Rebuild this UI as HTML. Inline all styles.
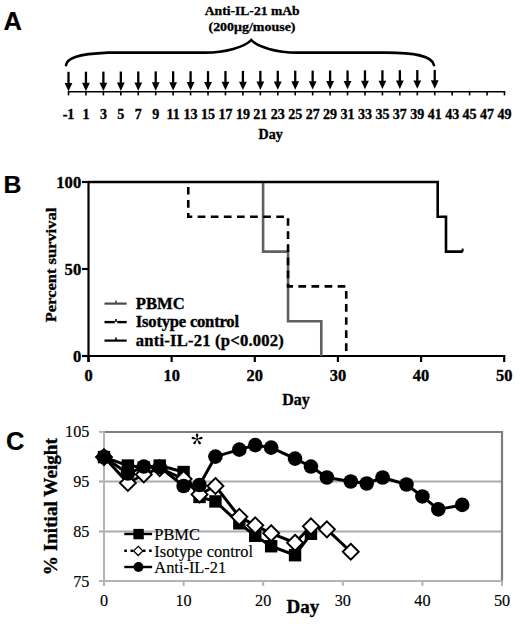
<!DOCTYPE html>
<html><head><meta charset="utf-8"><style>
html,body{margin:0;padding:0;background:#fff;width:520px;height:628px;overflow:hidden;}
svg{display:block;font-family:"Liberation Serif",serif;}
</style></head><body>
<svg width="520" height="628" viewBox="0 0 520 628">
<text x="3.6" y="29.5" font-family="'Liberation Sans', sans-serif" font-weight="bold" font-size="25.5" stroke="#000" stroke-width="0.2">A</text>
<text transform="translate(252.2,14.7) scale(1.09,1)" x="0" y="0" text-anchor="middle" font-family="'Liberation Serif', serif" font-weight="bold" font-size="12.5" stroke="#000" stroke-width="0.3">Anti-IL-21 mAb</text>
<text transform="translate(252,30.8) scale(1.1,1)" x="0" y="0" text-anchor="middle" font-family="'Liberation Serif', serif" font-weight="bold" font-size="12.7" stroke="#000" stroke-width="0.3">(200μg/mouse)</text>
<path d="M66,65.2 C67,58.5 76,54 108,52.6 L205,52.6 C225,52.6 245,47 251.2,40 C257.4,47 277,52.6 297,52.6 L386,52.6 C412,52.6 432,55 434,65.2" fill="none" stroke="#000" stroke-width="2.6" stroke-linecap="round"/>
<line x1="67.8" y1="91.75" x2="505.2" y2="91.75" stroke="#000" stroke-width="1.7"/>
<line x1="68.50" y1="91.8" x2="68.50" y2="95.4" stroke="#000" stroke-width="1.6"/>
<text x="68.50" y="118.9" text-anchor="middle" font-family="'Liberation Serif', serif" font-weight="bold" font-size="14" stroke="#000" stroke-width="0.35">-1</text>
<rect x="67.35" y="71.80" width="2.3" height="11.60" fill="#000"/>
<path d="M64.60,82.90 L72.40,82.90 L68.50,91.30 Z" fill="#000"/>
<line x1="85.94" y1="91.8" x2="85.94" y2="95.4" stroke="#000" stroke-width="1.6"/>
<text x="85.94" y="118.9" text-anchor="middle" font-family="'Liberation Serif', serif" font-weight="bold" font-size="14" stroke="#000" stroke-width="0.35">1</text>
<rect x="84.79" y="71.71" width="2.3" height="11.56" fill="#000"/>
<path d="M82.04,82.78 L89.84,82.78 L85.94,91.18 Z" fill="#000"/>
<line x1="103.38" y1="91.8" x2="103.38" y2="95.4" stroke="#000" stroke-width="1.6"/>
<text x="103.38" y="118.9" text-anchor="middle" font-family="'Liberation Serif', serif" font-weight="bold" font-size="14" stroke="#000" stroke-width="0.35">3</text>
<rect x="102.23" y="71.63" width="2.3" height="11.52" fill="#000"/>
<path d="M99.48,82.65 L107.28,82.65 L103.38,91.05 Z" fill="#000"/>
<line x1="120.82" y1="91.8" x2="120.82" y2="95.4" stroke="#000" stroke-width="1.6"/>
<text x="120.82" y="118.9" text-anchor="middle" font-family="'Liberation Serif', serif" font-weight="bold" font-size="14" stroke="#000" stroke-width="0.35">5</text>
<rect x="119.67" y="71.54" width="2.3" height="11.49" fill="#000"/>
<path d="M116.92,82.53 L124.72,82.53 L120.82,90.93 Z" fill="#000"/>
<line x1="138.26" y1="91.8" x2="138.26" y2="95.4" stroke="#000" stroke-width="1.6"/>
<text x="138.26" y="118.9" text-anchor="middle" font-family="'Liberation Serif', serif" font-weight="bold" font-size="14" stroke="#000" stroke-width="0.35">7</text>
<rect x="137.11" y="71.46" width="2.3" height="11.45" fill="#000"/>
<path d="M134.36,82.40 L142.16,82.40 L138.26,90.80 Z" fill="#000"/>
<line x1="155.70" y1="91.8" x2="155.70" y2="95.4" stroke="#000" stroke-width="1.6"/>
<text x="155.70" y="118.9" text-anchor="middle" font-family="'Liberation Serif', serif" font-weight="bold" font-size="14" stroke="#000" stroke-width="0.35">9</text>
<rect x="154.55" y="71.37" width="2.3" height="11.41" fill="#000"/>
<path d="M151.80,82.28 L159.60,82.28 L155.70,90.68 Z" fill="#000"/>
<line x1="173.14" y1="91.8" x2="173.14" y2="95.4" stroke="#000" stroke-width="1.6"/>
<text x="173.14" y="118.9" text-anchor="middle" font-family="'Liberation Serif', serif" font-weight="bold" font-size="14" stroke="#000" stroke-width="0.35">11</text>
<rect x="171.99" y="71.29" width="2.3" height="11.37" fill="#000"/>
<path d="M169.24,82.16 L177.04,82.16 L173.14,90.56 Z" fill="#000"/>
<line x1="190.58" y1="91.8" x2="190.58" y2="95.4" stroke="#000" stroke-width="1.6"/>
<text x="190.58" y="118.9" text-anchor="middle" font-family="'Liberation Serif', serif" font-weight="bold" font-size="14" stroke="#000" stroke-width="0.35">13</text>
<rect x="189.43" y="71.20" width="2.3" height="11.33" fill="#000"/>
<path d="M186.68,82.03 L194.48,82.03 L190.58,90.43 Z" fill="#000"/>
<line x1="208.02" y1="91.8" x2="208.02" y2="95.4" stroke="#000" stroke-width="1.6"/>
<text x="208.02" y="118.9" text-anchor="middle" font-family="'Liberation Serif', serif" font-weight="bold" font-size="14" stroke="#000" stroke-width="0.35">15</text>
<rect x="206.87" y="71.11" width="2.3" height="11.30" fill="#000"/>
<path d="M204.12,81.91 L211.92,81.91 L208.02,90.31 Z" fill="#000"/>
<line x1="225.46" y1="91.8" x2="225.46" y2="95.4" stroke="#000" stroke-width="1.6"/>
<text x="225.46" y="118.9" text-anchor="middle" font-family="'Liberation Serif', serif" font-weight="bold" font-size="14" stroke="#000" stroke-width="0.35">17</text>
<rect x="224.31" y="71.03" width="2.3" height="11.26" fill="#000"/>
<path d="M221.56,81.79 L229.36,81.79 L225.46,90.19 Z" fill="#000"/>
<line x1="242.90" y1="91.8" x2="242.90" y2="95.4" stroke="#000" stroke-width="1.6"/>
<text x="242.90" y="118.9" text-anchor="middle" font-family="'Liberation Serif', serif" font-weight="bold" font-size="14" stroke="#000" stroke-width="0.35">19</text>
<rect x="241.75" y="70.94" width="2.3" height="11.22" fill="#000"/>
<path d="M239.00,81.66 L246.80,81.66 L242.90,90.06 Z" fill="#000"/>
<line x1="260.34" y1="91.8" x2="260.34" y2="95.4" stroke="#000" stroke-width="1.6"/>
<text x="260.34" y="118.9" text-anchor="middle" font-family="'Liberation Serif', serif" font-weight="bold" font-size="14" stroke="#000" stroke-width="0.35">21</text>
<rect x="259.19" y="70.86" width="2.3" height="11.18" fill="#000"/>
<path d="M256.44,81.54 L264.24,81.54 L260.34,89.94 Z" fill="#000"/>
<line x1="277.78" y1="91.8" x2="277.78" y2="95.4" stroke="#000" stroke-width="1.6"/>
<text x="277.78" y="118.9" text-anchor="middle" font-family="'Liberation Serif', serif" font-weight="bold" font-size="14" stroke="#000" stroke-width="0.35">23</text>
<rect x="276.63" y="70.77" width="2.3" height="11.14" fill="#000"/>
<path d="M273.88,81.41 L281.68,81.41 L277.78,89.81 Z" fill="#000"/>
<line x1="295.22" y1="91.8" x2="295.22" y2="95.4" stroke="#000" stroke-width="1.6"/>
<text x="295.22" y="118.9" text-anchor="middle" font-family="'Liberation Serif', serif" font-weight="bold" font-size="14" stroke="#000" stroke-width="0.35">25</text>
<rect x="294.07" y="70.69" width="2.3" height="11.10" fill="#000"/>
<path d="M291.32,81.29 L299.12,81.29 L295.22,89.69 Z" fill="#000"/>
<line x1="312.66" y1="91.8" x2="312.66" y2="95.4" stroke="#000" stroke-width="1.6"/>
<text x="312.66" y="118.9" text-anchor="middle" font-family="'Liberation Serif', serif" font-weight="bold" font-size="14" stroke="#000" stroke-width="0.35">27</text>
<rect x="311.51" y="70.60" width="2.3" height="11.07" fill="#000"/>
<path d="M308.76,81.17 L316.56,81.17 L312.66,89.57 Z" fill="#000"/>
<line x1="330.10" y1="91.8" x2="330.10" y2="95.4" stroke="#000" stroke-width="1.6"/>
<text x="330.10" y="118.9" text-anchor="middle" font-family="'Liberation Serif', serif" font-weight="bold" font-size="14" stroke="#000" stroke-width="0.35">29</text>
<rect x="328.95" y="70.51" width="2.3" height="11.03" fill="#000"/>
<path d="M326.20,81.04 L334.00,81.04 L330.10,89.44 Z" fill="#000"/>
<line x1="347.54" y1="91.8" x2="347.54" y2="95.4" stroke="#000" stroke-width="1.6"/>
<text x="347.54" y="118.9" text-anchor="middle" font-family="'Liberation Serif', serif" font-weight="bold" font-size="14" stroke="#000" stroke-width="0.35">31</text>
<rect x="346.39" y="70.43" width="2.3" height="10.99" fill="#000"/>
<path d="M343.64,80.92 L351.44,80.92 L347.54,89.32 Z" fill="#000"/>
<line x1="364.98" y1="91.8" x2="364.98" y2="95.4" stroke="#000" stroke-width="1.6"/>
<text x="364.98" y="118.9" text-anchor="middle" font-family="'Liberation Serif', serif" font-weight="bold" font-size="14" stroke="#000" stroke-width="0.35">33</text>
<rect x="363.83" y="70.34" width="2.3" height="10.95" fill="#000"/>
<path d="M361.08,80.80 L368.88,80.80 L364.98,89.20 Z" fill="#000"/>
<line x1="382.42" y1="91.8" x2="382.42" y2="95.4" stroke="#000" stroke-width="1.6"/>
<text x="382.42" y="118.9" text-anchor="middle" font-family="'Liberation Serif', serif" font-weight="bold" font-size="14" stroke="#000" stroke-width="0.35">35</text>
<rect x="381.27" y="70.26" width="2.3" height="10.91" fill="#000"/>
<path d="M378.52,80.67 L386.32,80.67 L382.42,89.07 Z" fill="#000"/>
<line x1="399.86" y1="91.8" x2="399.86" y2="95.4" stroke="#000" stroke-width="1.6"/>
<text x="399.86" y="118.9" text-anchor="middle" font-family="'Liberation Serif', serif" font-weight="bold" font-size="14" stroke="#000" stroke-width="0.35">37</text>
<rect x="398.71" y="70.17" width="2.3" height="10.88" fill="#000"/>
<path d="M395.96,80.55 L403.76,80.55 L399.86,88.95 Z" fill="#000"/>
<line x1="417.30" y1="91.8" x2="417.30" y2="95.4" stroke="#000" stroke-width="1.6"/>
<text x="417.30" y="118.9" text-anchor="middle" font-family="'Liberation Serif', serif" font-weight="bold" font-size="14" stroke="#000" stroke-width="0.35">39</text>
<rect x="416.15" y="70.09" width="2.3" height="10.84" fill="#000"/>
<path d="M413.40,80.42 L421.20,80.42 L417.30,88.82 Z" fill="#000"/>
<line x1="434.74" y1="91.8" x2="434.74" y2="95.4" stroke="#000" stroke-width="1.6"/>
<text x="434.74" y="118.9" text-anchor="middle" font-family="'Liberation Serif', serif" font-weight="bold" font-size="14" stroke="#000" stroke-width="0.35">41</text>
<rect x="433.59" y="70.00" width="2.3" height="10.80" fill="#000"/>
<path d="M430.84,80.30 L438.64,80.30 L434.74,88.70 Z" fill="#000"/>
<line x1="452.18" y1="91.8" x2="452.18" y2="95.4" stroke="#000" stroke-width="1.6"/>
<text x="452.18" y="118.9" text-anchor="middle" font-family="'Liberation Serif', serif" font-weight="bold" font-size="14" stroke="#000" stroke-width="0.35">43</text>
<line x1="469.62" y1="91.8" x2="469.62" y2="95.4" stroke="#000" stroke-width="1.6"/>
<text x="469.62" y="118.9" text-anchor="middle" font-family="'Liberation Serif', serif" font-weight="bold" font-size="14" stroke="#000" stroke-width="0.35">45</text>
<line x1="487.06" y1="91.8" x2="487.06" y2="95.4" stroke="#000" stroke-width="1.6"/>
<text x="487.06" y="118.9" text-anchor="middle" font-family="'Liberation Serif', serif" font-weight="bold" font-size="14" stroke="#000" stroke-width="0.35">47</text>
<line x1="504.50" y1="91.8" x2="504.50" y2="95.4" stroke="#000" stroke-width="1.6"/>
<text x="504.50" y="118.9" text-anchor="middle" font-family="'Liberation Serif', serif" font-weight="bold" font-size="14" stroke="#000" stroke-width="0.35">49</text>
<text x="270.6" y="138.6" text-anchor="middle" font-family="'Liberation Serif', serif" font-weight="bold" font-size="14" stroke="#000" stroke-width="0.35">Day</text>
<text x="3.6" y="193.4" font-family="'Liberation Sans', sans-serif" font-weight="bold" font-size="24.8" stroke="#000" stroke-width="0.2">B</text>
<line x1="88.5" y1="181" x2="88.5" y2="362" stroke="#000" stroke-width="2.2"/>
<line x1="87.5" y1="356" x2="505" y2="356" stroke="#000" stroke-width="2.2"/>
<line x1="82" y1="356.00" x2="89" y2="356.00" stroke="#000" stroke-width="2.2"/>
<text x="81.2" y="362.20" text-anchor="end" font-family="'Liberation Serif', serif" font-weight="bold" font-size="16.6" stroke="#000" stroke-width="0.35">0</text>
<line x1="82" y1="269.00" x2="89" y2="269.00" stroke="#000" stroke-width="2.2"/>
<text x="81.2" y="275.20" text-anchor="end" font-family="'Liberation Serif', serif" font-weight="bold" font-size="16.6" stroke="#000" stroke-width="0.35">50</text>
<line x1="82" y1="182.00" x2="89" y2="182.00" stroke="#000" stroke-width="2.2"/>
<text x="81.2" y="188.20" text-anchor="end" font-family="'Liberation Serif', serif" font-weight="bold" font-size="16.6" stroke="#000" stroke-width="0.35">100</text>
<line x1="88.50" y1="355" x2="88.50" y2="362" stroke="#000" stroke-width="2.2"/>
<text x="88.50" y="381.2" text-anchor="middle" font-family="'Liberation Serif', serif" font-weight="bold" font-size="16.4" stroke="#000" stroke-width="0.35">0</text>
<line x1="171.64" y1="355" x2="171.64" y2="362" stroke="#000" stroke-width="2.2"/>
<text x="171.64" y="381.2" text-anchor="middle" font-family="'Liberation Serif', serif" font-weight="bold" font-size="16.4" stroke="#000" stroke-width="0.35">10</text>
<line x1="254.78" y1="355" x2="254.78" y2="362" stroke="#000" stroke-width="2.2"/>
<text x="254.78" y="381.2" text-anchor="middle" font-family="'Liberation Serif', serif" font-weight="bold" font-size="16.4" stroke="#000" stroke-width="0.35">20</text>
<line x1="337.92" y1="355" x2="337.92" y2="362" stroke="#000" stroke-width="2.2"/>
<text x="337.92" y="381.2" text-anchor="middle" font-family="'Liberation Serif', serif" font-weight="bold" font-size="16.4" stroke="#000" stroke-width="0.35">30</text>
<line x1="421.06" y1="355" x2="421.06" y2="362" stroke="#000" stroke-width="2.2"/>
<text x="421.06" y="381.2" text-anchor="middle" font-family="'Liberation Serif', serif" font-weight="bold" font-size="16.4" stroke="#000" stroke-width="0.35">40</text>
<line x1="504.20" y1="355" x2="504.20" y2="362" stroke="#000" stroke-width="2.2"/>
<text x="504.20" y="381.2" text-anchor="middle" font-family="'Liberation Serif', serif" font-weight="bold" font-size="16.4" stroke="#000" stroke-width="0.35">50</text>
<text x="296" y="405" text-anchor="middle" font-family="'Liberation Serif', serif" font-weight="bold" font-size="16" stroke="#000" stroke-width="0.35">Day</text>
<text transform="translate(55.8,265) rotate(-90) scale(1.07,1)" x="0" y="0" text-anchor="middle" font-family="'Liberation Serif', serif" font-weight="bold" font-size="15.4" stroke="#000" stroke-width="0.33">Percent survival</text>
<path d="M263.09,182.00 L263.09,251.60 L288.04,251.60 L288.04,321.20 L321.29,321.20 L321.29,356.00 " fill="none" stroke="#606060" stroke-width="2.6"/>
<path d="M188.27,182.00 L188.27,216.80 L288.04,216.80 L288.04,286.40 L346.23,286.40 L346.23,356.00 " fill="none" stroke="#000" stroke-width="2.6" stroke-dasharray="7.7 5.4" stroke-dashoffset="8.2"/>
<path d="M88.50,182.00 L437.69,182.00 L437.69,216.80 L446.00,216.80 L446.00,251.60 L462.63,251.60 " fill="none" stroke="#000" stroke-width="2.6"/>
<line x1="462.63" y1="251.60" x2="462.63" y2="248.60" stroke="#000" stroke-width="2"/>
<line x1="104.5" y1="303.6" x2="126.7" y2="303.6" stroke="#4a4a4a" stroke-width="2.2"/>
<line x1="115.9" y1="303.6" x2="115.9" y2="300.6" stroke="#4a4a4a" stroke-width="1.6"/>
<text x="135.8" y="309.3" font-family="'Liberation Serif', serif" font-weight="bold" font-size="16.6" stroke="#000" stroke-width="0.35">PBMC</text>
<line x1="104.5" y1="322.1" x2="114.8" y2="322.1" stroke="#000" stroke-width="2.4"/>
<line x1="117.2" y1="322.1" x2="126.7" y2="322.1" stroke="#000" stroke-width="2.4"/>
<line x1="115.9" y1="322.1" x2="115.9" y2="319.1" stroke="#000" stroke-width="1.6"/>
<text x="135.8" y="327.4" font-family="'Liberation Serif', serif" font-weight="bold" font-size="16.6" stroke="#000" stroke-width="0.35" textLength="103.2" lengthAdjust="spacing">Isotype control</text>
<line x1="104.5" y1="340.6" x2="126.7" y2="340.6" stroke="#000" stroke-width="2.2"/>
<line x1="115.9" y1="340.6" x2="115.9" y2="337.6" stroke="#000" stroke-width="1.6"/>
<text x="135.8" y="345.8" font-family="'Liberation Serif', serif" font-weight="bold" font-size="16.6" stroke="#000" stroke-width="0.35" textLength="148" lengthAdjust="spacing">anti-IL-21 (p&lt;0.002)</text>
<text x="5.9" y="450.4" font-family="'Liberation Sans', sans-serif" font-weight="bold" font-size="25.5" stroke="#000" stroke-width="0.2">C</text>
<line x1="99" y1="481.60" x2="502" y2="481.60" stroke="#ababab" stroke-width="2"/>
<line x1="99" y1="531.40" x2="502" y2="531.40" stroke="#ababab" stroke-width="2"/>
<line x1="104" y1="431.9" x2="502" y2="431.9" stroke="#7e7e7e" stroke-width="2"/>
<line x1="502" y1="430.9" x2="502" y2="580.9" stroke="#7e7e7e" stroke-width="2.2"/>
<line x1="99" y1="431.9" x2="104" y2="431.9" stroke="#b4b4b4" stroke-width="2"/>
<line x1="99" y1="580.9" x2="502" y2="580.9" stroke="#b4b4b4" stroke-width="2"/>
<line x1="104" y1="430.9" x2="104" y2="585.9" stroke="#b4b4b4" stroke-width="2"/>
<text x="89.4" y="437.20" text-anchor="end" font-family="'Liberation Serif', serif" font-size="16.2" stroke="#000" stroke-width="0.15">105</text>
<text x="89.4" y="487.00" text-anchor="end" font-family="'Liberation Serif', serif" font-size="16.2" stroke="#000" stroke-width="0.15">95</text>
<text x="89.4" y="536.80" text-anchor="end" font-family="'Liberation Serif', serif" font-size="16.2" stroke="#000" stroke-width="0.15">85</text>
<text x="89.4" y="586.60" text-anchor="end" font-family="'Liberation Serif', serif" font-size="16.2" stroke="#000" stroke-width="0.15">75</text>
<text x="104.00" y="606.2" text-anchor="middle" font-family="'Liberation Serif', serif" font-size="16.2" stroke="#000" stroke-width="0.15">0</text>
<line x1="183.60" y1="580.90" x2="183.60" y2="585.90" stroke="#b4b4b4" stroke-width="2"/>
<text x="183.60" y="606.2" text-anchor="middle" font-family="'Liberation Serif', serif" font-size="16.2" stroke="#000" stroke-width="0.15">10</text>
<line x1="263.20" y1="580.90" x2="263.20" y2="585.90" stroke="#b4b4b4" stroke-width="2"/>
<text x="263.20" y="606.2" text-anchor="middle" font-family="'Liberation Serif', serif" font-size="16.2" stroke="#000" stroke-width="0.15">20</text>
<line x1="342.80" y1="580.90" x2="342.80" y2="585.90" stroke="#b4b4b4" stroke-width="2"/>
<text x="342.80" y="606.2" text-anchor="middle" font-family="'Liberation Serif', serif" font-size="16.2" stroke="#000" stroke-width="0.15">30</text>
<line x1="422.40" y1="580.90" x2="422.40" y2="585.90" stroke="#b4b4b4" stroke-width="2"/>
<text x="422.40" y="606.2" text-anchor="middle" font-family="'Liberation Serif', serif" font-size="16.2" stroke="#000" stroke-width="0.15">40</text>
<line x1="502.00" y1="580.90" x2="502.00" y2="585.90" stroke="#b4b4b4" stroke-width="2"/>
<text x="502.00" y="606.2" text-anchor="middle" font-family="'Liberation Serif', serif" font-size="16.2" stroke="#000" stroke-width="0.15">50</text>
<text x="302.8" y="612.6" text-anchor="middle" font-family="'Liberation Serif', serif" font-weight="bold" font-size="19" stroke="#000" stroke-width="0.35">Day</text>
<text transform="translate(57.2,506.7) rotate(-90)" x="0" y="0" text-anchor="middle" font-family="'Liberation Serif', serif" font-weight="bold" font-size="19.2" stroke="#000" stroke-width="0.35">% Initial Weight</text>
<path transform="translate(197.1,439.3) rotate(0)" d="M0,0 L-0.85,-2.9 C-1.7,-4.5 -1.2,-5.7 0,-5.7 C1.2,-5.7 1.7,-4.5 0.85,-2.9 Z" fill="#000"/>
<path transform="translate(197.1,439.3) rotate(72)" d="M0,0 L-0.85,-2.9 C-1.7,-4.5 -1.2,-5.7 0,-5.7 C1.2,-5.7 1.7,-4.5 0.85,-2.9 Z" fill="#000"/>
<path transform="translate(197.1,439.3) rotate(144)" d="M0,0 L-0.85,-2.9 C-1.7,-4.5 -1.2,-5.7 0,-5.7 C1.2,-5.7 1.7,-4.5 0.85,-2.9 Z" fill="#000"/>
<path transform="translate(197.1,439.3) rotate(216)" d="M0,0 L-0.85,-2.9 C-1.7,-4.5 -1.2,-5.7 0,-5.7 C1.2,-5.7 1.7,-4.5 0.85,-2.9 Z" fill="#000"/>
<path transform="translate(197.1,439.3) rotate(288)" d="M0,0 L-0.85,-2.9 C-1.7,-4.5 -1.2,-5.7 0,-5.7 C1.2,-5.7 1.7,-4.5 0.85,-2.9 Z" fill="#000"/>
<circle cx="197.1" cy="439.3" r="1.0" fill="#000"/>
<polyline points="104.00,457.10 127.88,465.57 143.80,467.56 159.72,465.57 183.60,472.04 199.52,496.94 215.44,501.42 239.32,523.33 255.24,535.78 271.16,546.24 295.04,555.21 310.96,533.79" fill="none" stroke="#000" stroke-width="3.0" stroke-linejoin="round"/>
<rect x="97.80" y="450.90" width="12.4" height="12.4" fill="#000"/>
<rect x="121.68" y="459.37" width="12.4" height="12.4" fill="#000"/>
<rect x="137.60" y="461.36" width="12.4" height="12.4" fill="#000"/>
<rect x="153.52" y="459.37" width="12.4" height="12.4" fill="#000"/>
<rect x="177.40" y="465.84" width="12.4" height="12.4" fill="#000"/>
<rect x="193.32" y="490.74" width="12.4" height="12.4" fill="#000"/>
<rect x="209.24" y="495.22" width="12.4" height="12.4" fill="#000"/>
<rect x="233.12" y="517.13" width="12.4" height="12.4" fill="#000"/>
<rect x="249.04" y="529.58" width="12.4" height="12.4" fill="#000"/>
<rect x="264.96" y="540.04" width="12.4" height="12.4" fill="#000"/>
<rect x="288.84" y="549.01" width="12.4" height="12.4" fill="#000"/>
<rect x="304.76" y="527.59" width="12.4" height="12.4" fill="#000"/>
<polyline points="104.00,457.10 127.88,483.00 143.80,474.53 159.72,468.06 183.60,479.01 199.52,494.45 215.44,485.98 239.32,516.86 255.24,525.33 271.16,533.29 295.04,542.76 310.96,526.32 326.88,529.31 350.76,551.72" fill="none" stroke="#000" stroke-width="3.0" stroke-linejoin="round"/>
<path d="M104.00,449.10 L112.00,457.10 L104.00,465.10 L96.00,457.10 Z" fill="#fff" stroke="#000" stroke-width="1.9"/>
<path d="M127.88,475.00 L135.88,483.00 L127.88,491.00 L119.88,483.00 Z" fill="#fff" stroke="#000" stroke-width="1.9"/>
<path d="M143.80,466.53 L151.80,474.53 L143.80,482.53 L135.80,474.53 Z" fill="#fff" stroke="#000" stroke-width="1.9"/>
<path d="M159.72,460.06 L167.72,468.06 L159.72,476.06 L151.72,468.06 Z" fill="#fff" stroke="#000" stroke-width="1.9"/>
<path d="M183.60,471.01 L191.60,479.01 L183.60,487.01 L175.60,479.01 Z" fill="#fff" stroke="#000" stroke-width="1.9"/>
<path d="M199.52,486.45 L207.52,494.45 L199.52,502.45 L191.52,494.45 Z" fill="#fff" stroke="#000" stroke-width="1.9"/>
<path d="M215.44,477.98 L223.44,485.98 L215.44,493.98 L207.44,485.98 Z" fill="#fff" stroke="#000" stroke-width="1.9"/>
<path d="M239.32,508.86 L247.32,516.86 L239.32,524.86 L231.32,516.86 Z" fill="#fff" stroke="#000" stroke-width="1.9"/>
<path d="M255.24,517.33 L263.24,525.33 L255.24,533.33 L247.24,525.33 Z" fill="#fff" stroke="#000" stroke-width="1.9"/>
<path d="M271.16,525.29 L279.16,533.29 L271.16,541.29 L263.16,533.29 Z" fill="#fff" stroke="#000" stroke-width="1.9"/>
<path d="M295.04,534.76 L303.04,542.76 L295.04,550.76 L287.04,542.76 Z" fill="#fff" stroke="#000" stroke-width="1.9"/>
<path d="M310.96,518.32 L318.96,526.32 L310.96,534.32 L302.96,526.32 Z" fill="#fff" stroke="#000" stroke-width="1.9"/>
<path d="M326.88,521.31 L334.88,529.31 L326.88,537.31 L318.88,529.31 Z" fill="#fff" stroke="#000" stroke-width="1.9"/>
<path d="M350.76,543.72 L358.76,551.72 L350.76,559.72 L342.76,551.72 Z" fill="#fff" stroke="#000" stroke-width="1.9"/>
<polyline points="104.00,457.10 127.88,473.53 143.80,466.56 159.72,467.06 183.60,485.98 199.52,484.99 215.44,456.60 239.32,449.63 255.24,445.15 271.16,447.64 295.04,458.59 310.96,466.56 326.88,477.52 350.76,481.50 366.68,483.49 382.60,477.52 406.48,484.49 422.40,496.44 438.32,509.39 462.20,504.91" fill="none" stroke="#000" stroke-width="3.0" stroke-linejoin="round"/>
<circle cx="104.00" cy="457.10" r="7.3" fill="#000"/>
<circle cx="127.88" cy="473.53" r="7.3" fill="#000"/>
<circle cx="143.80" cy="466.56" r="7.3" fill="#000"/>
<circle cx="159.72" cy="467.06" r="7.3" fill="#000"/>
<circle cx="183.60" cy="485.98" r="7.3" fill="#000"/>
<circle cx="199.52" cy="484.99" r="7.3" fill="#000"/>
<circle cx="215.44" cy="456.60" r="7.3" fill="#000"/>
<circle cx="239.32" cy="449.63" r="7.3" fill="#000"/>
<circle cx="255.24" cy="445.15" r="7.3" fill="#000"/>
<circle cx="271.16" cy="447.64" r="7.3" fill="#000"/>
<circle cx="295.04" cy="458.59" r="7.3" fill="#000"/>
<circle cx="310.96" cy="466.56" r="7.3" fill="#000"/>
<circle cx="326.88" cy="477.52" r="7.3" fill="#000"/>
<circle cx="350.76" cy="481.50" r="7.3" fill="#000"/>
<circle cx="366.68" cy="483.49" r="7.3" fill="#000"/>
<circle cx="382.60" cy="477.52" r="7.3" fill="#000"/>
<circle cx="406.48" cy="484.49" r="7.3" fill="#000"/>
<circle cx="422.40" cy="496.44" r="7.3" fill="#000"/>
<circle cx="438.32" cy="509.39" r="7.3" fill="#000"/>
<circle cx="462.20" cy="504.91" r="7.3" fill="#000"/>
<line x1="124.3" y1="534" x2="152.1" y2="534" stroke="#000" stroke-width="2.4"/>
<rect x="133.40" y="528.90" width="10.4" height="10.4" fill="#000"/>
<line x1="124.3" y1="550.8" x2="152.1" y2="550.8" stroke="#000" stroke-width="2.4" stroke-dasharray="2.6 3.6"/>
<path d="M138.20,546.30 L142.80,550.90 L138.20,555.50 L133.60,550.90 Z" fill="#fff" stroke="#000" stroke-width="1.3"/>
<line x1="124.3" y1="567" x2="152.1" y2="567" stroke="#000" stroke-width="2.4"/>
<circle cx="138.50" cy="567.00" r="5" fill="#000"/>
<text x="154.3" y="540.3" font-family="'Liberation Serif', serif" font-size="16.4" stroke="#000" stroke-width="0.15">PBMC</text>
<text x="154.3" y="556.8" font-family="'Liberation Serif', serif" font-size="16.4" stroke="#000" stroke-width="0.15">Isotype control</text>
<text x="154.3" y="573.3" font-family="'Liberation Serif', serif" font-size="16.4" stroke="#000" stroke-width="0.15">Anti-IL-21</text>
</svg>
</body></html>
